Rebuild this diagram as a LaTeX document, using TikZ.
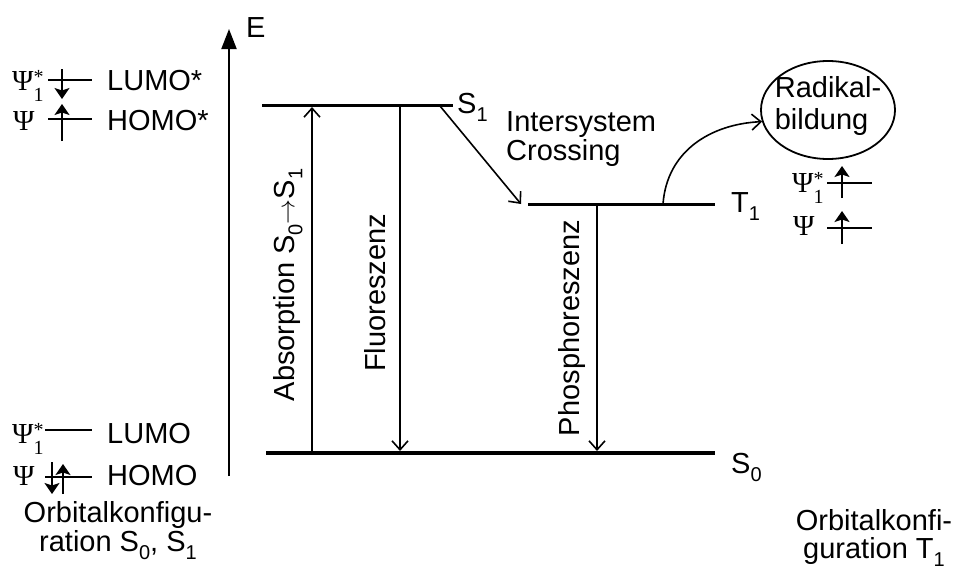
\documentclass[tikz,border=0pt]{standalone}
\usepackage[no-math]{fontspec}
\setmainfont{Liberation Sans}
\newfontfamily\grk{Liberation Serif}
\usetikzlibrary{arrows.meta,shapes.geometric}

% lowered sans-serif index, as in S_0, T_1
\newcommand\lowidx[1]{\raisebox{-8pt}{\fontsize{20}{20}\selectfont #1}}
% orbital symbols
\newcommand\psiexc{{\grk Ψ\rlap{\raisebox{7pt}{\fontsize{20}{20}\selectfont *}}\raisebox{-11pt}{\fontsize{20}{20}\selectfont 1}}}
\newcommand\psigr{{\grk Ψ}}

\begin{document}
\begin{tikzpicture}[x=1pt,y=-1pt,
  lbl/.style={inner sep=0pt, font=\fontsize{29}{32}\selectfont},
  level/.style={line width=3pt},
  trans/.style={line width=1.6pt, -{Straight Barb[length=9pt,width=16pt,line width=1.6pt]}},
  orb/.style={line width=2.2pt},
  spin/.style={line width=2pt, -{Stealth[length=11pt,width=15pt,inset=2.5pt]}},
]
\useasboundingbox (0,0) rectangle (959,570);

% energy axis
\coordinate (axbot) at (229,476);
\coordinate (axtop) at (229,29);
\draw[line width=2pt, -{Triangle[length=20pt,width=15pt]}] (axbot) -- (axtop);
\node[lbl, anchor=base west] (E) at (246,37) {E};

% energy levels
\coordinate (s1l) at (262,105);  \coordinate (s1r) at (453,105);
\coordinate (t1l) at (528,204);  \coordinate (t1r) at (715,204);
\coordinate (s0l) at (266,453);  \coordinate (s0r) at (715,453);
\draw[level] (s1l) -- (s1r);
\draw[level] (t1l) -- (t1r);
\draw[level, line width=3.5pt] (s0l) -- (s0r);
\node[lbl, anchor=base west] (S1lab) at (457,113) {S\lowidx{1}};
\node[lbl, anchor=base west] (T1lab) at (731,212) {T\lowidx{1}};
\node[lbl, anchor=base west] (S0lab) at (731,473) {S\lowidx{0}};

% transitions
\coordinate (absB) at (312,452);  \coordinate (absT) at (312,107);
\coordinate (fluT) at (400,107);  \coordinate (fluB) at (400,451);
\coordinate (phoT) at (597,206);  \coordinate (phoB) at (597,451);
\coordinate (iscA) at (440,106);  \coordinate (iscB) at (521,204);
\draw[trans] (absB) -- (absT);
\draw[trans] (fluT) -- (fluB);
\draw[trans] (phoT) -- (phoB);
\draw[trans] (iscA) -- (iscB);
\node[lbl, rotate=90] (absLab) at (288,285)
  {Absorption S\lowidx{0}{\fontsize{24}{24}\selectfont$\rightarrow$}S\lowidx{1}};
\node[lbl, rotate=90] (fluLab) at (375,293) {Fluoreszenz};
\node[lbl, rotate=90] (phoLab) at (572,328) {Phosphoreszenz};
\node[lbl, font=\fontsize{29}{27}\selectfont, align=left, anchor=base west]
  (iscLab) at (506,160) {Intersystem\\Crossing};

% radical formation
\node[draw, ellipse, line width=1.8pt, minimum width=134pt,
      minimum height=98pt, inner sep=0pt] (rad) at (828,110) {};
\node[lbl, align=left] (radLab) at (828,106) {Radikal-\\bildung};
\coordinate (radS) at (663,204);
\draw[trans] (radS) .. controls (667,150) and (712,124) .. (rad.190);

% orbital configuration S0, S1 (top: excited, bottom: ground state)
\node[lbl, anchor=base west] (psiA1) at (12,90) {\psiexc};
\draw[orb] (48,80) -- (92,80);
\draw[spin] (62,69) -- (62,99);
\node[lbl, anchor=base west] (lumoA) at (107,90) {LUMO*};
\node[lbl, anchor=base west] (psiA2) at (13,130) {\psigr};
\draw[orb] (48,119) -- (92,119);
\draw[spin] (62,141) -- (62,104);
\node[lbl, anchor=base west] (homoA) at (107,130) {HOMO*};

\node[lbl, anchor=base west] (psiB1) at (12,443) {\psiexc};
\draw[orb] (45,430) -- (92,430);
\node[lbl, anchor=base west] (lumoB) at (107,443) {LUMO};
\node[lbl, anchor=base west] (psiB2) at (13,485) {\psigr};
\draw[orb] (45,477) -- (92,477);
\draw[spin] (52,462) -- (52,494);
\draw[spin] (63,494) -- (63,464);
\node[lbl, anchor=base west] (homoB) at (107,485) {HOMO};

\node[lbl, anchor=base] (cfgS1) at (118,522) {Orbitalkonfigu-};
\node[lbl, anchor=base] (cfgS2) at (118,551) {ration S\lowidx{0}, S\lowidx{1}};

% orbital configuration T1
\node[lbl, anchor=base west] (psiC1) at (792,192) {\psiexc};
\draw[orb] (827,183) -- (872,183);
\draw[spin] (842,198) -- (842,166);
\node[lbl, anchor=base west] (psiC2) at (793,235) {\psigr};
\draw[orb] (827,228) -- (872,228);
\draw[spin] (842,244) -- (842,211);

\node[lbl, anchor=base] (cfgT1) at (874,530) {Orbitalkonfi-};
\node[lbl, anchor=base] (cfgT2) at (874,558) {guration T\lowidx{1}};
\end{tikzpicture}
\end{document}
